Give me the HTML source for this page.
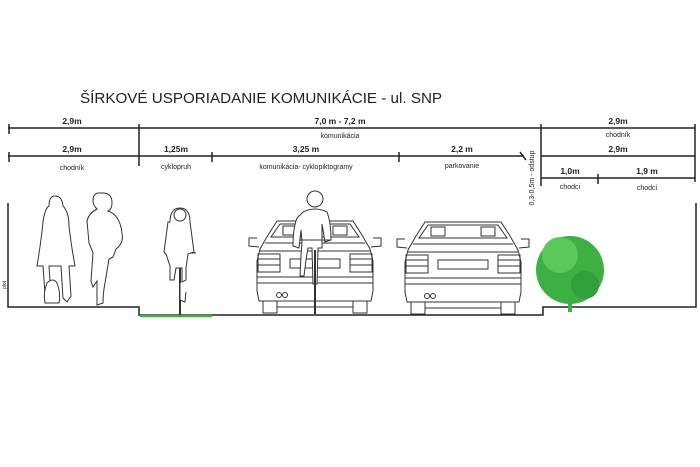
<!DOCTYPE html>
<html><head><meta charset="utf-8"><style>
html,body{margin:0;padding:0;background:#fff;}
svg{display:block;}
text{font-family:"Liberation Sans",sans-serif;fill:#222;}
</style></head><body>
<svg width="700" height="467" viewBox="0 0 700 467" xmlns="http://www.w3.org/2000/svg">
<defs>
<g id="car" fill="none" stroke="#333" stroke-width="1">
  <path d="M-38,0 L38,0 L47,14 L55,28 L58,40 L58,70 L56,80 L-56,80 L-58,70 L-58,40 L-55,28 L-47,14 Z" fill="#fff"/>
  <path d="M-35,3 L35,3 L44,16 L-44,16 Z"/>
  <rect x="-32" y="5" width="14" height="9"/><rect x="18" y="5" width="14" height="9"/>
  <path d="M-50,22 L50,22 M-55,30 L55,30"/>
  <path d="M-58,17 L-66,17 L-66,25 L-56,26 M58,17 L66,17 L66,25 L56,26"/>
  <rect x="-57" y="33" width="22" height="18"/><rect x="35" y="33" width="22" height="18"/>
  <path d="M-57,38 L-35,38 M-57,44 L-35,44 M35,38 L57,38 M35,44 L57,44"/>
  <rect x="-25" y="38" width="50" height="9"/>
  <path d="M-58,56 L58,56 M-58,62 L58,62"/>
  <path d="M-52,80 L-52,92 L-38,92 L-38,80 M52,80 L52,92 L38,92 L38,80 M-38,86 L38,86"/>
  <circle cx="-36" cy="74" r="2.5"/><circle cx="-30" cy="74" r="2.5"/>
</g>
</defs>

<text x="80" y="103" font-size="15.2" fill="#222">ŠÍRKOVÉ USPORIADANIE KOMUNIKÁCIE - ul. SNP</text>

<g stroke="#222" stroke-width="1.5" fill="none">
  <line x1="8" y1="128" x2="695" y2="128"/>
  <line x1="8" y1="156" x2="524" y2="156"/>
  <line x1="541" y1="156" x2="695" y2="156"/>
  <line x1="541" y1="178" x2="695" y2="178"/>
  <line x1="9" y1="124" x2="9" y2="134"/>
  <line x1="139" y1="124" x2="139" y2="166"/>
  <line x1="9" y1="152" x2="9" y2="162"/>
  <line x1="212" y1="152" x2="212" y2="162"/>
  <line x1="399" y1="152" x2="399" y2="162"/>
  <line x1="541" y1="124" x2="541" y2="186"/>
  <line x1="695" y1="124" x2="695" y2="182"/>
  <line x1="598" y1="174" x2="598" y2="184"/>
  <line x1="520" y1="152" x2="526" y2="160"/>
</g>
<g font-size="8.5" text-anchor="middle" font-weight="bold">
  <text x="72" y="124">2,9m</text>
  <text x="340" y="124">7,0 m - 7,2 m</text>
  <text x="618" y="124">2,9m</text>
  <text x="72" y="152">2,9m</text>
  <text x="176" y="152">1,25m</text>
  <text x="306" y="152">3,25 m</text>
  <text x="462" y="152">2,2 m</text>
  <text x="618" y="152">2,9m</text>
  <text x="570" y="174">1,0m</text>
  <text x="647" y="174">1,9 m</text>
</g>
<g font-size="7" text-anchor="middle" fill="#444">
  <text x="340" y="138">komunikácia</text>
  <text x="618" y="137">chodník</text>
  <text x="72" y="170">chodník</text>
  <text x="176" y="169">cyklopruh</text>
  <text x="306" y="169">komunikácia- cyklopiktogramy</text>
  <text x="462" y="168">parkovanie</text>
  <text x="570" y="189">chodci</text>
  <text x="647" y="190">chodci</text>
  <text transform="translate(534,178) rotate(-90)" x="0" y="0">0,3-0,5m - odstup</text>
  <text transform="translate(6,285) rotate(-90)" x="0" y="0" font-size="5">plot</text>
</g>

<g stroke="#222" stroke-width="1.5" fill="none">
  <path d="M8,203 L8,307 L139,307 L139,315 L543,315 L543,307 L696,307 L696,203"/>
</g>
<line x1="140" y1="316" x2="212" y2="316" stroke="#3cb043" stroke-width="2.5"/>

<g fill="#fff" stroke="#333" stroke-width="1">
  <path d="M55,196 q7,0 8,10 q6,6 6,20 q2,18 6,40 l-6,0 l2,30 l-4,6 l-4,-4 l-2,-32 l-12,0 l2,30 l-6,-2 l-2,-28 l-6,0 q4,-24 6,-44 q2,-14 6,-16 q0,-10 6,-10 z"/>
  <path d="M47,283 q6,-6 10,0 q4,10 2,20 l-14,0 q-2,-10 2,-20 z"/>
  <path d="M103,193 q9,0 9,10 q0,6 -4,8 q12,4 14,22 q2,10 -6,16 l-3,8 l-4,2 l-4,24 q-2,10 -2,20 l-6,2 l0,-24 l-4,6 l-2,-6 l2,-28 l-4,-10 l-2,-22 q2,-8 10,-12 q-4,-4 -4,-8 q0,-8 6,-8 z"/>
</g>

<g fill="#fff" stroke="#333" stroke-width="1">
  <line x1="180" y1="255" x2="180" y2="315" stroke-width="2"/>
  <path d="M164,253 L196,253"/>
  <path d="M170,222 q0,-14 10,-14 q10,0 10,14 l4,30 l-6,2 l-2,14 l0,12 l-4,2 l0,-14 l-6,0 l-2,12 l-4,0 l0,-14 l-4,-12 l-2,-2 l4,-30 z"/>
  <circle cx="180" cy="215" r="6"/>
  <path d="M180,282 l0,18 l5,2 l1,-10"/>
</g>

<use href="#car" x="315" y="221"/>
<use href="#car" x="463" y="222"/>

<g fill="#fff" stroke="#333" stroke-width="1">
  <path d="M303,212 q12,-6 24,0 q4,10 4,28 l-6,2 l-3,-18 l0,24 l-4,0 l-1,36 l-4,0 l-1,-36 l-4,0 l-2,12 l-2,16 l-4,0 l1,-20 l1,-14 l-1,-12 l-2,18 l-6,-2 q0,-18 4,-28 z"/>
  <circle cx="315" cy="199" r="8"/>
  <line x1="315" y1="250" x2="315" y2="314" stroke-width="2"/>
  <path d="M300,240 L330,240"/>
</g>

<g fill="#3cb043">
  <circle cx="570" cy="270" r="34"/>
  <circle cx="560" cy="255" r="18" fill="#5ac85a"/>
  <circle cx="585" cy="285" r="14" fill="#2fa03a"/>
  <rect x="568" y="300" width="4" height="12"/>
</g>
</svg>
</body></html>
